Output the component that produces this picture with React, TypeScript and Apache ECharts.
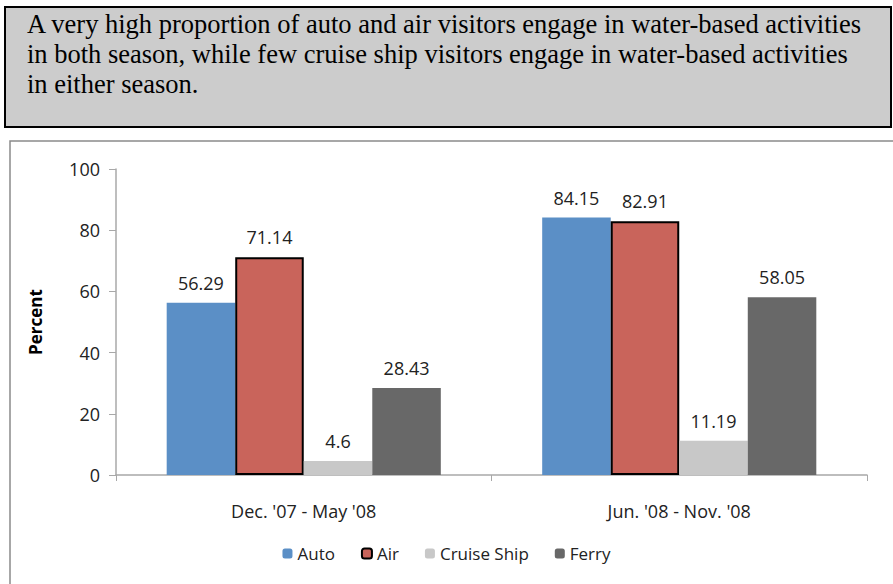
import React, { useEffect, useRef } from "react";
import * as echarts from "echarts";

const categories = ["Dec. '07 - May '08", "Jun. '08 - Nov. '08"];
const autoValues = [56.29, 84.15];
const airValues = [71.14, 82.91];
const cruiseValues = [4.6, 11.19];
const ferryValues = [28.43, 58.05];
const titleLines = [
  "A very high proportion of auto and air visitors engage in water-based activities",
  "in both season, while few cruise ship visitors engage in water-based activities",
  "in either season.",
];

const FONT = "'Open Sans', 'Noto Sans', sans-serif";

export default function App() {
  const ref = useRef<HTMLDivElement>(null);
  useEffect(() => {
    if (!ref.current) return;
    const chart = echarts.init(ref.current, null, { renderer: "svg" });
    const label = {
      show: true,
      position: "top" as const,
      distance: 11,
      fontSize: 18,
      color: "#222",
      fontFamily: FONT,
    };
    const mk = (name: string, data: number[], color: string, border?: boolean) => ({
      name,
      type: "bar" as const,
      data,
      barGap: "0%",
      barCategoryGap: "27%",
      itemStyle: border
        ? { color, borderColor: "#000", borderWidth: 2 }
        : { color },
      label,
    });
    chart.setOption({
      animation: false,
      backgroundColor: "#fff",
      graphic: [
        {
          type: "rect",
          shape: { x: 10, y: 141, width: 900, height: 500 },
          style: { fill: "#fff", stroke: "#8a8a8a", lineWidth: 1.5 },
          z: -10,
        },
        {
          type: "rect",
          shape: { x: 5, y: 7, width: 886, height: 120 },
          style: { fill: "#cccccc", stroke: "#000", lineWidth: 2 },
        },
        ...titleLines.map((t, i) => ({
          type: "text",
          x: 27,
          y: 24 + i * 30,
          style: {
            text: t,
            fontSize: 26.5,
            fontFamily: "'Liberation Serif', 'DejaVu Serif', serif",
            fill: "#000",
            verticalAlign: "middle",
          },
        })),
      ],
      grid: { left: 116, right: 26, top: 169, bottom: 109 },
      legend: {
        bottom: 17,
        left: "center",
        itemWidth: 10,
        itemHeight: 10,
        itemGap: 26,
        textStyle: { fontSize: 17, fontFamily: FONT, color: "#222" },
        data: ["Auto", "Air", "Cruise Ship", "Ferry"],
      },
      xAxis: {
        type: "category",
        data: categories,
        axisLine: { lineStyle: { color: "#a8a8a8", width: 1.5 } },
        axisTick: { show: true, length: 6, lineStyle: { color: "#a8a8a8" } },
        axisLabel: { fontSize: 18, fontFamily: FONT, color: "#222", margin: 27 },
      },
      yAxis: {
        type: "value",
        min: 0,
        max: 100,
        interval: 20,
        name: "Percent",
        nameLocation: "middle",
        nameGap: 72,
        nameTextStyle: { fontSize: 17, fontWeight: "bold", fontFamily: FONT, color: "#000" },
        axisLine: { show: true, lineStyle: { color: "#a8a8a8", width: 1.5 } },
        axisTick: { show: true, length: 7, lineStyle: { color: "#a8a8a8" } },
        splitLine: { show: false },
        axisLabel: { fontSize: 18, fontFamily: FONT, color: "#222", margin: 16 },
      },
      series: [
        mk("Auto", autoValues, "#5b8fc6"),
        mk("Air", airValues, "#c9645b", true),
        mk("Cruise Ship", cruiseValues, "#c8c8c8"),
        mk("Ferry", ferryValues, "#686868"),
      ],
    });
    return () => chart.dispose();
  }, []);
  return (
    <div
      ref={ref}
      style={{ position: "fixed", left: 0, top: 0, width: 893, height: 584 }}
    />
  );
}
